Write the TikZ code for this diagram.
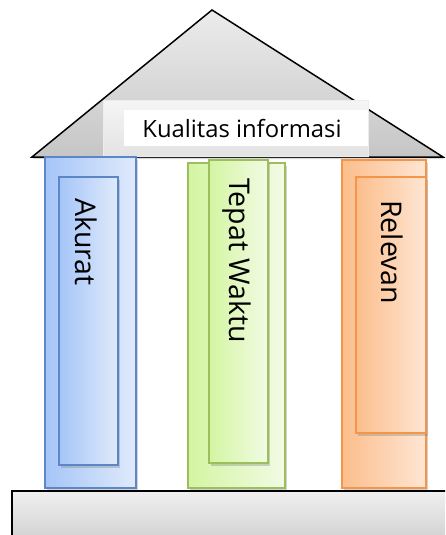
\documentclass[tikz,border=0pt]{standalone}
\usepackage{fontspec}
\setmainfont{Open Sans}
\usetikzlibrary{shadows}

\definecolor{akuratline}{HTML}{5B87C8}
\definecolor{akuratleft}{HTML}{A5C5F8}
\definecolor{akuratright}{HTML}{E0EAFB}
\definecolor{tepatline}{HTML}{9DBE5C}
\definecolor{tepatleft}{HTML}{D4F5A2}
\definecolor{tepatright}{HTML}{F1FBE4}
\definecolor{relevanline}{HTML}{F59548}
\definecolor{relevanleft}{HTML}{FCBE8C}
\definecolor{relevanright}{HTML}{FEE6D4}

\tikzset{
  post/.style={draw=#1line, line width=1.3pt, left color=#1left, right color=#1right,
    inner sep=0pt, drop shadow={shadow xshift=2pt, shadow yshift=-3pt, opacity=0.35}},
  postlabel/.style={rotate=-90, anchor=west, inner sep=0pt,
    font=\fontsize{28.5}{31}\selectfont}
}

\begin{document}
\begin{tikzpicture}[x=1pt, y=-1pt]
        \useasboundingbox (0,0) rectangle (445,535);
        \clip (0,0) rectangle (445,535);

        % roof
        \draw [black, line width=1.5pt, top color=gray!15, bottom color=gray!45,
               drop shadow={shadow xshift=1pt, shadow yshift=-2pt, opacity=0.3}]
              (212,10) -- (443,157) -- (32,157) -- cycle;

        % title plate
        \node [draw=gray!15, line width=1pt, top color=gray!8, bottom color=gray!22,
               minimum width=265pt, minimum height=56pt, inner sep=0pt,
               drop shadow={shadow xshift=1pt, shadow yshift=-2pt, opacity=0.3}]
              (plate) at (235.5,128) {};
        \node [fill=white, minimum width=244pt, minimum height=36pt, inner sep=0pt]
              (platein) at (246,128) {};
        \node [font=\fontsize{23.8}{26}\selectfont] (title) at (242,129) {Kualitas informasi};

        % pillars
        \node [post=akurat, minimum width=91pt, minimum height=331pt] (akurat) at (90.5,322.5) {};
        \node [post=akurat, minimum width=59pt, minimum height=288pt] (akuratin) at (88.5,321) {};
        \node [postlabel] (akuratlabel) at (86.5,198) {Akurat};

        \node [post=tepat, minimum width=97pt, minimum height=325pt] (tepat) at (236.5,325.5) {};
        \node [post=tepat, minimum width=59pt, minimum height=303pt] (tepatin) at (238.5,311.5) {};
        \node [postlabel] (tepatlabel) at (236.5,178) {Tepat Waktu};

        \node [post=relevan, minimum width=84pt, minimum height=328pt] (relevan) at (384,324) {};
        \node [post=relevan, minimum width=70pt, minimum height=256pt] (relevanin) at (391,305) {};
        \node [postlabel] (relevanlabel) at (392.5,200) {Relevan};

        % base
        \draw [black, line width=1.5pt, top color=gray!12, bottom color=gray!38]
              (12,491) rectangle (460,545);
    \end{tikzpicture}
\end{document}
